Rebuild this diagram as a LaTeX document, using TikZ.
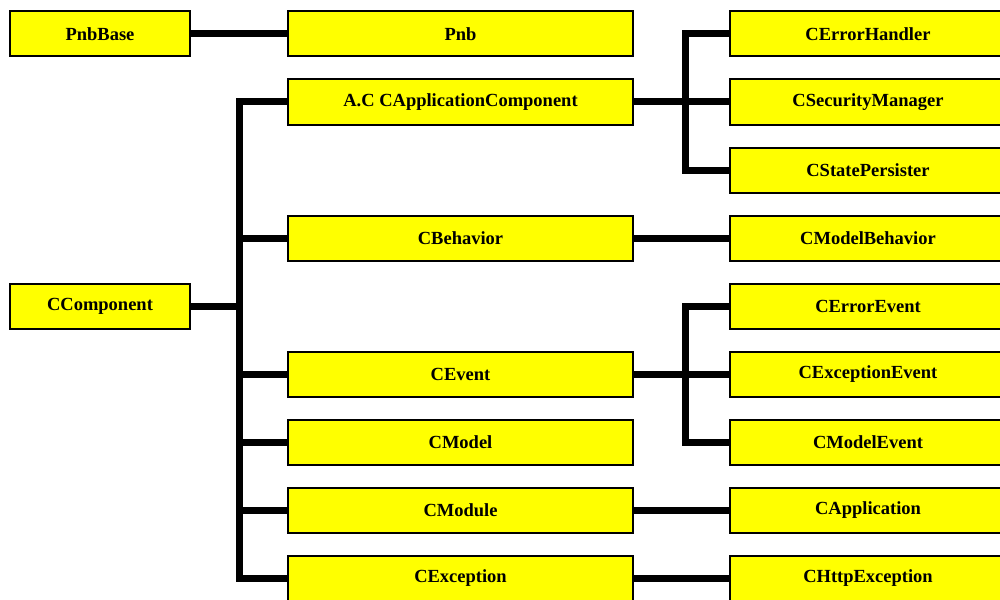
\documentclass[tikz,border=0pt]{standalone}
\usepackage{fontspec}
\setmainfont{Liberation Serif}
\definecolor{clsyellow}{RGB}{255,255,0}
\begin{document}
\begin{tikzpicture}[x=1pt, y=-1pt,
    cls/.style={draw=black, line width=2pt, fill=clsyellow, minimum height=45pt,
      inner sep=0pt, font=\fontsize{18.5}{20}\selectfont\bfseries},
    base/.style={cls, minimum width=180pt},
    mid/.style={cls, minimum width=345pt},
    sub/.style={cls, minimum width=276pt},
    link/.style={line width=7pt}]
  \useasboundingbox (0,0) rectangle (1000,599);

  % left column
  \node[base] (pnbbase) at (100,34) {PnbBase};
  \node[base] (comp) at (100,306) {CComponent};

  % middle column
  \node[mid] (pnb) at (460.5,34) {Pnb};
  \node[mid] (appc) at (460.5,102) {A.C CApplicationComponent};
  \node[mid] (behav) at (460.5,238) {CBehavior};
  \node[mid] (event) at (460.5,374) {CEvent};
  \node[mid] (model) at (460.5,442) {CModel};
  \node[mid] (module) at (460.5,510) {CModule};
  \node[mid] (exc) at (460.5,578) {CException};

  % right column
  \node[sub] (errh) at (868,34) {CErrorHandler};
  \node[sub] (secm) at (868,102) {CSecurityManager};
  \node[sub] (statep) at (868,170) {CStatePersister};
  \node[sub] (mbehav) at (868,238) {CModelBehavior};
  \node[sub] (errev) at (868,306) {CErrorEvent};
  \node[sub] (excev) at (868,374) {CExceptionEvent};
  \node[sub] (modev) at (868,442) {CModelEvent};
  \node[sub] (capp) at (868,510) {CApplication};
  \node[sub] (httpexc) at (868,578) {CHttpException};

  % connectors
  \draw[link] (pnbbase) -- (pnb);
  \foreach \n in {appc,behav,event,model,module,exc} {
    \draw[link] (comp.east) -- ++(48,0) |- (\n.west);
  }
  \foreach \n in {errh,secm,statep} {
    \draw[link] (appc.east) -- ++(51,0) |- (\n.west);
  }
  \draw[link] (behav) -- (mbehav);
  \foreach \n in {errev,excev,modev} {
    \draw[link] (event.east) -- ++(51,0) |- (\n.west);
  }
  \draw[link] (module) -- (capp);
  \draw[link] (exc) -- (httpexc);
\end{tikzpicture}
\end{document}
